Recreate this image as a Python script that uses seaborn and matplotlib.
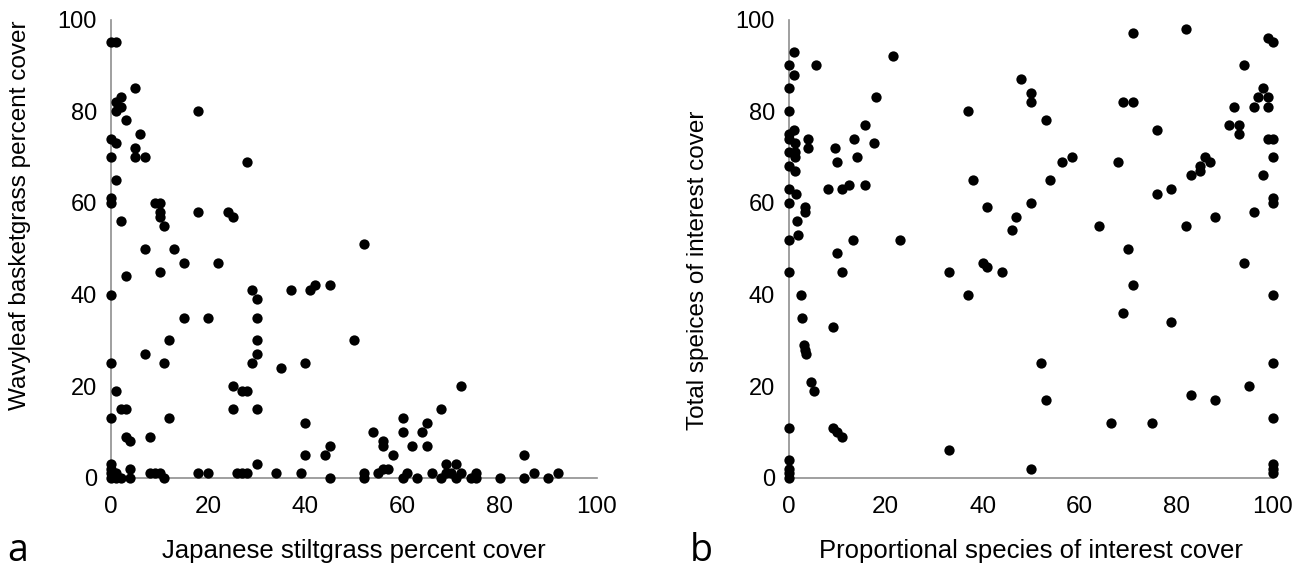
import matplotlib
matplotlib.use("Agg")
import matplotlib.pyplot as plt
import seaborn as sns
import pandas as pd

# Panel a: Japanese stiltgrass cover vs. wavyleaf basketgrass cover (per plot)
stiltgrass_cover = [0, 1, 5, 2, 1, 2, 1, 18, 3, 6,
                    0, 1, 5, 0, 5, 7, 28, 1, 0, 0,
                    9, 10, 10, 10, 18, 24, 25, 2, 11, 52,
                    7, 13, 15, 22, 10, 3, 0, 29, 37, 41,
                    42, 45, 30, 15, 20, 30, 12, 30, 50, 7,
                    30, 0, 11, 29, 40, 35, 25, 72, 27, 28,
                    1, 2, 3, 25, 30, 68, 0, 12, 60, 40,
                    65, 54, 60, 64, 3, 8, 4, 56, 45, 56,
                    62, 65, 40, 44, 58, 85, 30, 69, 71, 0,
                    0, 0, 0, 1, 1, 2, 4, 4, 8, 9,
                    10, 11, 18, 20, 26, 27, 28, 34, 39, 45,
                    52, 52, 55, 56, 57, 60, 61, 63, 66, 68,
                    69, 70, 71, 72, 74, 75, 75, 80, 85, 87,
                    90, 92]
basketgrass_cover = [95, 95, 85, 83, 82, 81, 80, 80, 78, 75,
                     74, 73, 72, 70, 70, 70, 69, 65, 61, 60,
                     60, 60, 58, 57, 58, 58, 57, 56, 55, 51,
                     50, 50, 47, 47, 45, 44, 40, 41, 41, 41,
                     42, 42, 39, 35, 35, 35, 30, 30, 30, 27,
                     27, 25, 25, 25, 25, 24, 20, 20, 19, 19,
                     19, 15, 15, 15, 15, 15, 13, 13, 13, 12,
                     12, 10, 10, 10, 9, 9, 8, 8, 7, 7,
                     7, 7, 5, 5, 5, 5, 3, 3, 3, 3,
                     2, 1, 0, 1, 0, 0, 2, 0, 1, 1,
                     1, 0, 1, 1, 1, 1, 1, 1, 1, 0,
                     1, 0, 1, 2, 2, 0, 1, 0, 1, 0,
                     1, 1, 0, 1, 0, 1, 0, 0, 0, 1,
                     0, 1]

# Panel b: proportional vs. total species-of-interest cover
proportional_cover = [71, 82, 99, 100, 94, 98, 97, 99, 69, 71,
                      92, 96, 99, 76, 91, 93, 93, 99, 100, 68,
                      86, 87, 85, 85, 83, 100, 98, 76, 79, 100,
                      100, 96, 88, 82, 64, 70, 94, 71, 100, 69,
                      79, 100, 95, 83, 88, 100, 66.5, 75, 100, 100,
                      100, 48, 50, 50, 37, 53, 56.5, 58.5, 38, 54,
                      41, 50, 47, 46, 33, 40, 41, 44, 37, 52,
                      53, 33, 50, 1, 0, 5.5, 1, 21.5, 0, 18,
                      0, 15.6, 1, 0, 0, 4, 13.5, 1.2, 4, 17.6,
                      9.6, 0, 1.2, 1.2, 14, 10, 0, 1.3, 0, 1.4,
                      8, 11, 12.4, 15.6, 0, 3.3, 3.3, 1.6, 1.8, 0,
                      13.3, 23, 10, 0, 11, 2.4, 2.7, 9, 3.2, 3.3,
                      3.5, 4.6, 5.1, 0, 9, 10, 11, 0, 0, 0,
                      0]
total_cover = [97, 98, 96, 95, 90, 85, 83, 83, 82, 82,
               81, 81, 81, 76, 77, 77, 75, 74, 74, 69,
               70, 69, 68, 67, 66, 70, 66, 62, 63, 61,
               60, 58, 57, 55, 55, 50, 47, 42, 40, 36,
               34, 25, 20, 18, 17, 13, 12, 12, 3, 2,
               1, 87, 84, 82, 80, 78, 69, 70, 65, 65,
               59, 60, 57, 54, 45, 47, 46, 45, 40, 25,
               17, 6, 2, 93, 90, 90, 88, 92, 85, 83,
               80, 77, 76, 75, 74, 74, 74, 73, 72, 73,
               72, 71, 71, 70, 70, 69, 68, 67, 63, 62,
               63, 63, 64, 64, 60, 59, 58, 56, 53, 52,
               52, 52, 49, 45, 45, 40, 35, 33, 29, 28,
               27, 21, 19, 11, 11, 10, 9, 4, 2, 1,
               0]

axis_ticks = [0, 20, 40, 60, 80, 100]

sns.set_style("white")
plt.rcParams["font.family"] = ["Liberation Sans", "DejaVu Sans"]
plt.rcParams["text.color"] = "black"
plt.rcParams["axes.labelcolor"] = "black"
plt.rcParams["xtick.color"] = "black"
plt.rcParams["ytick.color"] = "black"

W, H = 1316, 573
fig = plt.figure(figsize=(W / 100, H / 100), dpi=100)
ax_a = fig.add_axes([111 / W, 95 / H, 486 / W, 458.5 / H])
ax_b = fig.add_axes([789 / W, 95 / H, 484 / W, 458.5 / H])

df_a = pd.DataFrame({"x": stiltgrass_cover, "y": basketgrass_cover})
df_b = pd.DataFrame({"x": proportional_cover, "y": total_cover})

spine_grey = "#8f8f8f"

panels = [
    (ax_a, df_a, "Japanese stiltgrass percent cover",
     "Wavyleaf basketgrass percent cover", 0.574),
    (ax_b, df_b, "Proportional species of interest cover",
     "Total speices of interest cover", 0.452),
]

for ax, df, xlabel, ylabel, ylabel_pos in panels:
    sns.scatterplot(data=df, x="x", y="y", ax=ax, color="black", s=55,
                    linewidth=0, clip_on=False, zorder=3)
    ax.set_xlim(0, 100)
    ax.set_ylim(0, 100)
    ax.set_xticks(axis_ticks)
    ax.set_yticks(axis_ticks)
    ax.set_xticklabels([str(t) for t in axis_ticks])
    ax.set_yticklabels([str(t) for t in axis_ticks])
    for side in ("top", "right"):
        ax.spines[side].set_visible(False)
    for side in ("left", "bottom"):
        ax.spines[side].set_color(spine_grey)
        ax.spines[side].set_linewidth(1.2)
    ax.tick_params(axis="x", direction="out", length=6, width=1.2,
                   color=spine_grey, labelcolor="black", labelsize=17.5, pad=7)
    ax.tick_params(axis="y", direction="out", length=4, width=1.2,
                   color=spine_grey, labelcolor="black", labelsize=17, pad=6)
    ax.set_xlabel(xlabel, fontsize=18.5, color="black")
    ax.set_ylabel(ylabel, fontsize=17.5, color="black")
    ax.xaxis.set_label_coords(0.5, -0.133)
    ax.yaxis.set_label_coords(-0.165, ylabel_pos)
    ax.set_facecolor("white")

letter_font = ["Open Sans", "DejaVu Sans"]
fig.text(7 / W, 1 - 561 / H, "a", fontsize=27, family=letter_font,
         ha="left", va="baseline", color="black")
fig.text(690 / W, 1 - 561 / H, "b", fontsize=27, family=letter_font,
         ha="left", va="baseline", color="black")

fig.savefig("out.png", dpi=100, facecolor="white")
